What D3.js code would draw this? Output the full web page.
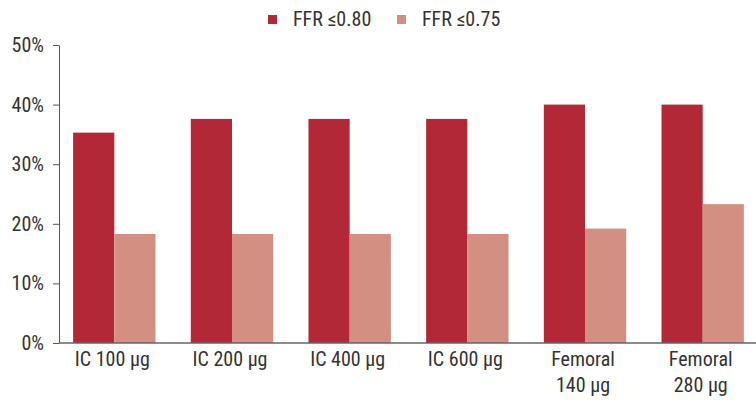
<!DOCTYPE html>
<html lang="en">
<head>
<meta charset="UTF-8">
<title>FFR bar chart</title>
<script src="https://d3js.org/d3.v7.min.js"></script>
<style>
  body { margin: 0; background: #fff; }
  text { font-family: "Liberation Sans Narrow", "Roboto Condensed", "Roboto", sans-serif; fill: #333; }
</style>
</head>
<body>
<script>
// data
const categories = [["IC 100 μg"], ["IC 200 μg"], ["IC 400 μg"], ["IC 600 μg"], ["Femoral", "140 μg"], ["Femoral", "280 μg"]]
const seriesNames = ["FFR ≤0.80", "FFR ≤0.75"]
const ffr080 = [35.3, 37.6, 37.6, 37.6, 40.0, 40.0]
const ffr075 = [18.3, 18.3, 18.3, 18.3, 19.2, 23.3]
const yTicks = [0, 10, 20, 30, 40, 50]
const colors = ["#b22837", "#d38f82"]

const width = 756, height = 401
const margin = { top: 45, right: -2, bottom: 58, left: 59 }
const fontSize = "20px"

const svg = d3.select("body").append("svg")
    .attr("width", width)
    .attr("height", height)

const x0 = d3.scaleBand()
    .domain(d3.range(categories.length))
    .range([margin.left, width - margin.right])
    .paddingInner(0.3)
    .paddingOuter(0.12)

const x1 = d3.scaleBand()
    .domain([0, 1])
    .range([0, x0.bandwidth()])

const y = d3.scaleLinear()
    .domain([0, 50])
    .range([height - margin.bottom, margin.top])

// bars
const groups = svg.selectAll("g.grp")
    .data(categories.map((c, i) => [ffr080[i], ffr075[i]]))
    .enter().append("g")
    .attr("class", "grp")
    .attr("transform", (d, i) => `translate(${x0(i)},0)`)

groups.selectAll("rect")
    .data(d => d)
    .enter().append("rect")
    .attr("x", (d, j) => x1(j))
    .attr("y", d => y(d))
    .attr("width", x1.bandwidth())
    .attr("height", d => y(0) - y(d))
    .attr("fill", (d, j) => colors[j])

// y axis
const yAxis = svg.append("g")
    .attr("transform", `translate(${margin.left},0)`)
    .call(d3.axisLeft(y).tickValues(yTicks).tickFormat(d => d + "%").tickSize(6).tickPadding(9).tickSizeOuter(0))
yAxis.select(".domain").attr("stroke", "#555")
yAxis.selectAll(".tick line").attr("stroke", "#555")
yAxis.selectAll(".tick text").style("font-size", fontSize).attr("fill", "#333")

// x axis line
svg.append("line")
    .attr("x1", margin.left)
    .attr("x2", width)
    .attr("y1", y(0))
    .attr("y2", y(0))
    .attr("stroke", "#666")
    .attr("stroke-width", 1.5)

// x labels
const xl = svg.selectAll("text.xl")
    .data(categories)
    .enter().append("text")
    .attr("class", "xl")
    .attr("text-anchor", "middle")
    .attr("transform", (d, i) => `translate(${x0(i) + x0.bandwidth() / 2 - 2},${y(0) + 23})`)
    .style("font-size", fontSize)
xl.selectAll("tspan")
    .data(d => d)
    .enter().append("tspan")
    .attr("x", 0)
    .attr("dy", (d, j) => j === 0 ? 0 : 26)
    .text(d => d)

// legend
const legendX = [268, 397]
const legend = svg.selectAll("g.legend")
    .data(seriesNames)
    .enter().append("g")
    .attr("class", "legend")
    .attr("transform", (d, i) => `translate(${legendX[i]},0)`)
legend.append("rect")
    .attr("x", 0).attr("y", 15)
    .attr("width", 9).attr("height", 9)
    .attr("fill", (d, i) => colors[i])
legend.append("text")
    .attr("x", 25).attr("y", 26)
    .style("font-size", fontSize)
    .text(d => d)
</script>
</body>
</html>
